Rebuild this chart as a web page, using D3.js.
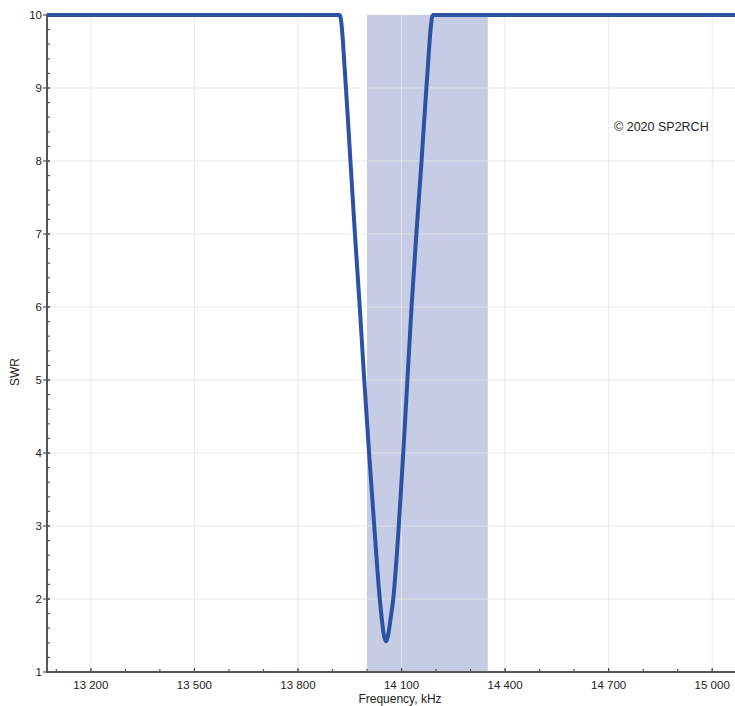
<!DOCTYPE html>
<html>
<head>
<meta charset="utf-8">
<script src="https://cdn.jsdelivr.net/npm/d3@7"></script>
<style>
  body { margin: 0; background: #fff; }
  text { font-family: "Liberation Sans", Arial, sans-serif; fill: #222; }
  .grid line { stroke: #e4e4e4; stroke-width: 1; }
  .axis-line { stroke: #555; stroke-width: 2; }
  .tick-mark { stroke: #555; stroke-width: 1.2; }
</style>
</head>
<body>
<div id="chart"></div>
<script>
// data (SWR clipped at 10)
var freqKHz = [13073, 13921, 13939, 13952, 13965, 13979, 13992, 14006, 14021, 14037, 14043, 14049,
               14055, 14061, 14068, 14076, 14092, 14105, 14117, 14129, 14143, 14158, 14172, 14191, 15066];
var swr     = [10, 10, 9, 8, 7, 6, 5, 4, 3, 2, 1.72, 1.5,
               1.42, 1.5, 1.72, 2, 3, 4, 5, 6, 7, 8, 9, 10, 10];
var band = [14000, 14350];
var xTicks = [13200, 13500, 13800, 14100, 14400, 14700, 15000];
var yTicks = [1, 2, 3, 4, 5, 6, 7, 8, 9, 10];

var width = 735, height = 706;
var plotL = 47, plotR = 735, plotT = 15, plotB = 672;

var x = d3.scaleLinear().domain([13073, 15066]).range([plotL, plotR]);
var y = d3.scaleLinear().domain([1, 10]).range([plotB, plotT]);

var svg = d3.select('#chart').append('svg')
    .attr('width', width)
    .attr('height', height);

// amateur band shading
svg.append('rect')
    .attr('x', x(band[0]))
    .attr('y', plotT)
    .attr('width', x(band[1]) - x(band[0]))
    .attr('height', plotB - plotT)
    .attr('fill', '#c7cce5');

// grid
var grid = svg.append('g').attr('class', 'grid');
grid.selectAll('.gx').data(xTicks).enter().append('line')
    .attr('x1', function(d) { return x(d); })
    .attr('x2', function(d) { return x(d); })
    .attr('y1', plotT).attr('y2', plotB)
    .style('stroke-opacity', 0.8);
grid.selectAll('.gy').data(yTicks.slice(1, 9)).enter().append('line')
    .attr('x1', plotL).attr('x2', plotR)
    .attr('y1', function(d) { return y(d); })
    .attr('y2', function(d) { return y(d); })
    .style('stroke-opacity', 0.8);

// minor ticks
var yMinor = d3.range(1, 10.001, 0.2);
var xMinor = d3.range(13100, 15066, 100);

svg.selectAll('.ym').data(yMinor).enter().append('line')
    .attr('class', 'tick-mark')
    .attr('x1', plotL).attr('x2', plotL + 3)
    .attr('y1', function(d) { return y(d); })
    .attr('y2', function(d) { return y(d); });

svg.selectAll('.xm').data(xMinor).enter().append('line')
    .attr('class', 'tick-mark')
    .attr('x1', function(d) { return x(d); })
    .attr('x2', function(d) { return x(d); })
    .attr('y1', plotB).attr('y2', plotB - 3);

// major ticks + labels
svg.selectAll('.yt').data(yTicks).enter().append('line')
    .attr('class', 'tick-mark')
    .attr('x1', plotL - 4).attr('x2', plotL + 3)
    .attr('y1', function(d) { return y(d); })
    .attr('y2', function(d) { return y(d); });

svg.selectAll('.yl').data(yTicks).enter().append('text')
    .attr('x', 42)
    .attr('y', function(d) { return y(d) + 4; })
    .attr('text-anchor', 'end')
    .style('font-size', '11.5px')
    .text(function(d) { return d; });

svg.selectAll('.xt').data(xTicks).enter().append('line')
    .attr('class', 'tick-mark')
    .attr('x1', function(d) { return x(d); })
    .attr('x2', function(d) { return x(d); })
    .attr('y1', plotB).attr('y2', plotB - 4);

var fmt = function(d) { return d3.format(',')(d).replace(',', ' '); };
svg.selectAll('.xl').data(xTicks).enter().append('text')
    .attr('x', function(d) { return x(d); })
    .attr('y', 689)
    .attr('text-anchor', 'middle')
    .style('font-size', '11.5px')
    .text(fmt);

// axis lines
svg.append('line').attr('class', 'axis-line')
    .attr('x1', plotL).attr('x2', plotL).attr('y1', plotT - 1).attr('y2', plotB + 1);
svg.append('line').attr('class', 'axis-line')
    .attr('x1', plotL - 1).attr('x2', plotR).attr('y1', plotB).attr('y2', plotB);

// SWR curve
var line = d3.line()
    .x(function(d, i) { return x(freqKHz[i]); })
    .y(function(d) { return y(d); })
    .curve(d3.curveMonotoneX);

svg.append('path')
    .datum(swr)
    .attr('d', line)
    .attr('fill', 'none')
    .attr('stroke', '#2c52a5')
    .attr('stroke-width', 4)
    .attr('stroke-linejoin', 'round');

// titles
svg.append('text')
    .attr('x', 400).attr('y', 703)
    .attr('text-anchor', 'middle')
    .style('font-size', '12px')
    .text('Frequency, kHz');

svg.append('text')
    .attr('transform', 'translate(19,372) rotate(-90)')
    .attr('text-anchor', 'middle')
    .style('font-size', '12px')
    .text('SWR');

svg.append('text')
    .attr('x', 614).attr('y', 131)
    .style('font-size', '12.5px')
    .text('\u00a9 2020 SP2RCH');
</script>
</body>
</html>
